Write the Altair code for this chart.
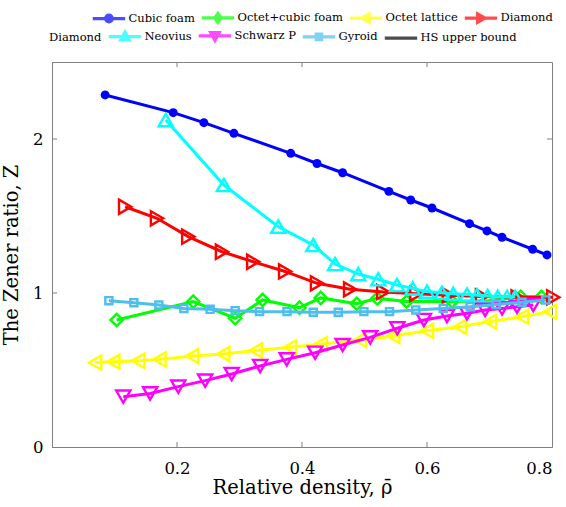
import altair as alt
import pandas as pd

# ---------------- data ----------------
CUBIC_X = [0.085, 0.194, 0.243, 0.291, 0.382, 0.424, 0.465, 0.539, 0.574, 0.608, 0.668, 0.696, 0.720, 0.769, 0.792]
CUBIC_Y = [2.286, 2.171, 2.106, 2.037, 1.907, 1.841, 1.781, 1.660, 1.604, 1.552, 1.450, 1.403, 1.362, 1.284, 1.247]

OCTCUB_X = [0.1035, 0.226, 0.293, 0.337, 0.396, 0.430, 0.4875, 0.5205, 0.5675, 0.640, 0.698, 0.750, 0.783]
OCTCUB_Y = [0.825, 0.944, 0.836, 0.955, 0.905, 0.968, 0.930, 0.965, 0.945, 0.945, 0.950, 0.975, 0.975]

OCTET_X = [0.069, 0.098, 0.138, 0.172, 0.224, 0.274, 0.326, 0.381, 0.430, 0.493, 0.546, 0.600, 0.653, 0.701, 0.752, 0.797]
OCTET_Y = [0.548, 0.554, 0.560, 0.569, 0.591, 0.604, 0.627, 0.647, 0.668, 0.695, 0.721, 0.755, 0.781, 0.814, 0.846, 0.879]

DIAM_X = [0.117, 0.168, 0.218, 0.272, 0.322, 0.373, 0.424, 0.477, 0.530, 0.583, 0.635, 0.688, 0.745, 0.802]
DIAM_Y = [1.560, 1.485, 1.366, 1.268, 1.203, 1.140, 1.063, 1.024, 1.007, 0.995, 0.985, 0.978, 0.972, 0.972]

NEO_X = [0.182, 0.275, 0.362, 0.418, 0.453, 0.490, 0.522, 0.552, 0.577, 0.600, 0.624, 0.642, 0.664, 0.680, 0.697, 0.713, 0.728, 0.741]
NEO_Y = [2.123, 1.701, 1.431, 1.312, 1.188, 1.123, 1.089, 1.052, 1.030, 1.009, 1.002, 0.995, 0.990, 0.985, 0.980, 0.975, 0.975, 0.975]

SCHW_X = [0.114, 0.157, 0.202, 0.245, 0.2875, 0.333, 0.3755, 0.421, 0.465, 0.509, 0.5525, 0.595, 0.632, 0.664, 0.693, 0.720, 0.744, 0.770]
SCHW_Y = [0.327, 0.348, 0.392, 0.431, 0.474, 0.526, 0.569, 0.612, 0.662, 0.712, 0.771, 0.825, 0.851, 0.868, 0.890, 0.900, 0.911, 0.922]

GYR_X = [0.091, 0.131, 0.171, 0.211, 0.253, 0.293, 0.332, 0.376, 0.418, 0.458, 0.499, 0.540, 0.582, 0.626, 0.669, 0.711, 0.752, 0.790]
GYR_Y = [0.950, 0.937, 0.922, 0.900, 0.894, 0.885, 0.879, 0.879, 0.875, 0.875, 0.879, 0.879, 0.890, 0.900, 0.911, 0.925, 0.940, 0.955]

X_TICKS = [0.2, 0.4, 0.6, 0.8]
Y_TICKS = [0, 1, 2]

LEGEND_ROW1 = ["Cubic foam", "Octet+cubic foam", "Octet lattice", "Diamond"]
LEGEND_ROW2 = ["Neovius", "Schwarz P", "Gyroid", "HS upper bound"]

# ---------------- styling ----------------
FONT = "DejaVu Serif"
GRAY = "#808080"
W, H = 500, 385
LEG_FS = 11.5

xscale = alt.Scale(domain=[0, 0.8], nice=False, zero=False)
yscale = alt.Scale(domain=[0, 2.5], nice=False, zero=False)
xaxis = alt.Axis(values=X_TICKS, format=".1f", title="Relative density, \u03c1\u0304",
                 labelFontSize=16.5, titleFontSize=19.5, labelPadding=13, titlePadding=2,
                 ticks=False, grid=False)
yaxis = alt.Axis(values=Y_TICKS, format="d", title="The Zener ratio, Z",
                 labelFontSize=16.5, titleFontSize=19.5, labelPadding=9, titlePadding=11,
                 ticks=False, grid=False)


def series(xs, ys, color, shape, size, filled):
    df = pd.DataFrame({"x": xs, "y": ys})
    enc = dict(x=alt.X("x:Q", scale=xscale, axis=xaxis),
               y=alt.Y("y:Q", scale=yscale, axis=yaxis))
    line = alt.Chart(df).mark_line(color=color, strokeWidth=3).encode(**enc)
    pts = alt.Chart(df).mark_point(shape=shape, size=size, filled=filled, color=color,
                                   strokeWidth=2.4, opacity=1).encode(**enc)
    return [line, pts]


layers = []
layers += series(CUBIC_X, CUBIC_Y, "#0000FF", "circle", 80, True)
layers += series(OCTCUB_X, OCTCUB_Y, "#00FF00", "diamond", 150, False)
layers += series(OCTET_X, OCTET_Y, "#FFFF00", "triangle-left", 200, False)
layers += series(DIAM_X, DIAM_Y, "#FF0000", "triangle-right", 200, False)
layers += series(NEO_X, NEO_Y, "#00FFFF", "triangle-up", 200, False)
layers += series(SCHW_X, SCHW_Y, "#FF00FF", "triangle-down", 200, False)
layers += series(GYR_X, GYR_Y, "#4DBEEE", "square", 50, False)

# inward ticks (box style)
xt = pd.DataFrame({"t": X_TICKS[:-1]})
yt = pd.DataFrame({"t": Y_TICKS[1:]})
for y0, y1 in [(H, H - 5), (0, 5)]:
    layers.append(alt.Chart(xt).mark_rule(color=GRAY, strokeWidth=1).encode(
        x=alt.X("t:Q", scale=xscale, axis=xaxis), y=alt.value(y0), y2=alt.value(y1)))
for x0, x1 in [(0, 5), (W, W - 5)]:
    layers.append(alt.Chart(yt).mark_rule(color=GRAY, strokeWidth=1).encode(
        y=alt.Y("t:Q", scale=yscale, axis=yaxis), x=alt.value(x0), x2=alt.value(x1)))

# legend symbols: a line with a small filled marker in its middle
LINE = "M-1,0L9.8,0"
C = 4.4
P_CIRCLE = LINE + f"M{C-1.1},0A1.1,1.1,0,1,0,{C+1.1},0A1.1,1.1,0,1,0,{C-1.1},0Z"
P_DIAMOND = LINE + f"M{C},-1.5L{C+1.1},0L{C},1.5L{C-1.1},0Z"
P_TLEFT = LINE + f"M{C-1.4},0L{C+1.1},-1.4L{C+1.1},1.4Z"
P_TRIGHT = LINE + f"M{C+1.4},0L{C-1.1},-1.4L{C-1.1},1.4Z"
P_TUP = LINE + f"M{C},-1.5L{C+1.4},1.1L{C-1.4},1.1Z"
P_TDOWN = LINE + f"M{C},1.5L{C+1.4},-1.1L{C-1.4},-1.1Z"
P_SQUARE = LINE + f"M{C-0.9},-0.9L{C+0.9},-0.9L{C+0.9},0.9L{C-0.9},0.9Z"


def legend_layer(names, colors, shapes, lx, ly, title=None):
    df = pd.DataFrame({"s": names, "x": [-1.0] * len(names), "y": [-1.0] * len(names)})
    kw = dict(orient="none", legendX=lx, legendY=ly, direction="horizontal",
              labelFont=FONT, labelFontSize=LEG_FS, labelColor="black",
              symbolStrokeWidth=3.2, symbolSize=36, labelOffset=27,
              columnPadding=0, padding=0, labelLimit=300)
    if title is not None:
        kw.update(title=title, titleOrient="left", titleFont=FONT, titleFontSize=LEG_FS,
                  titleFontWeight="normal", titleColor="black", titlePadding=4,
                  titleBaseline="middle")
    else:
        kw.update(title=None)
    leg = alt.Legend(**kw)
    return alt.Chart(df).mark_point(size=36, clip=True, filled=True, strokeWidth=3.2).encode(
        x=alt.X("x:Q", scale=xscale, axis=xaxis),
        y=alt.Y("y:Q", scale=yscale, axis=yaxis),
        stroke=alt.Stroke("s:N", scale=alt.Scale(domain=names, range=colors), legend=leg),
        fill=alt.Fill("s:N", scale=alt.Scale(domain=names, range=colors), legend=leg),
        shape=alt.Shape("s:N", scale=alt.Scale(domain=names, range=shapes), legend=leg),
    )


layers.append(legend_layer(
    LEGEND_ROW1,
    ["#0000FF", "#00FF00", "#FFFF00", "#FF0000"],
    [P_CIRCLE, P_DIAMOND, P_TLEFT, P_TRIGHT],
    38, -50))
layers.append(legend_layer(
    LEGEND_ROW2,
    ["#00FFFF", "#FF00FF", "#4DBEEE", "#000000"],
    [P_TUP, P_TDOWN, P_SQUARE, LINE],
    -3, -32, title="Diamond"))

chart = alt.layer(*layers).resolve_scale(
    stroke="independent", fill="independent", shape="independent"
).properties(
    width=W, height=H,
    padding={"left": 52, "top": 62, "right": 14, "bottom": 60},
    autosize=alt.AutoSizeParams(type="none"),
    background="white",
).configure(font=FONT).configure_view(stroke=GRAY, strokeWidth=1).configure_axis(
    domainColor=GRAY, labelFont=FONT, titleFont=FONT, labelColor="black",
    titleColor="black", titleFontWeight="normal"
).configure_legend(labelFont=FONT, titleFont=FONT)

chart.save("out.html", embed_options={"renderer": "svg", "actions": False})
